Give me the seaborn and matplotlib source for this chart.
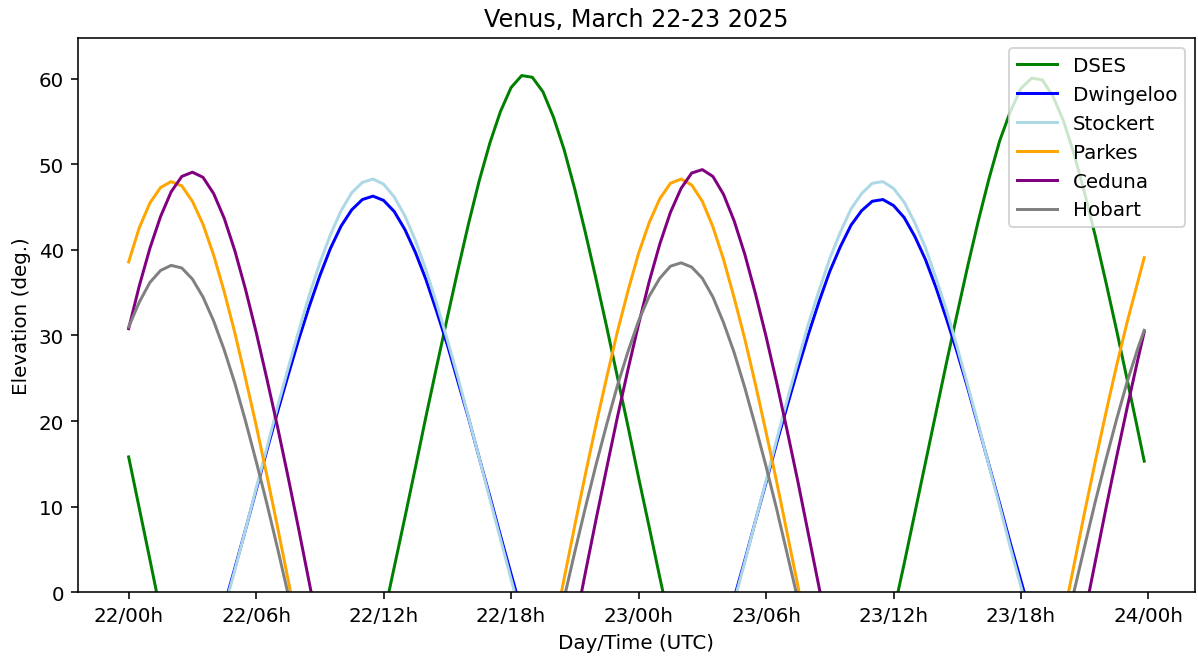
import numpy as np
import pandas as pd
import matplotlib
matplotlib.use("Agg")
import matplotlib.pyplot as plt
import matplotlib.dates as mdates
import seaborn as sns

# time axis: hours after 2025-03-22 00:00 UTC (half-hour samples)
hours = list(np.arange(0, 48, 0.5)) + [47.8]

stations = ["DSES", "Dwingeloo", "Stockert", "Parkes", "Ceduna", "Hobart"]
colors = ["green", "blue", "lightblue", "orange", "purple", "grey"]

DSES = [
    15.8, 9.8, 3.8, -2.3, -8.3, -13.5, -18.5, -23.5, -28.0, -32.0,
    -35.5, -38.5, -41.0, -42.2, -42.6, -41.6, -39.9, -36.9, -33.3, -29.0,
    -24.3, -19.3, -14.1, -8.5, -2.9, 2.9, 8.7, 14.6, 20.6, 26.4,
    32.1, 37.7, 43.1, 48.1, 52.5, 56.2, 59.0, 60.4, 60.2, 58.5,
    55.5, 51.7, 47.1, 42.0, 36.6, 31.0, 25.2, 19.4, 13.4, 7.6,
    1.7, -4.0, -9.7, -15.1, -20.3, -25.2, -29.8, -33.8, -37.3, -40.0,
    -42.0, -42.9, -43.0, -41.8, -39.7, -36.6, -33.0, -28.7, -24.0, -19.0,
    -13.7, -8.1, -2.4, 3.3, 9.2, 15.1, 21.0, 26.9, 32.6, 38.2,
    43.5, 48.4, 52.8, 56.2, 58.9, 60.1, 59.9, 58.0, 55.1, 51.2,
    46.6, 41.6, 36.2, 30.6, 24.8, 18.9, 15.3]

Dwingeloo = [
    -27.7, -26.6, -25.1, -22.9, -20.3, -17.1, -13.6, -9.9, -5.9, -1.6,
    2.8, 7.3, 11.9, 16.5, 21.0, 25.3, 29.5, 33.4, 37.0, 40.2,
    42.8, 44.7, 45.9, 46.3, 45.8, 44.5, 42.4, 39.7, 36.5, 32.8,
    28.9, 24.6, 20.3, 15.7, 11.2, 6.6, 2.1, -2.3, -6.5, -10.5,
    -14.2, -17.6, -20.8, -23.3, -25.5, -27.0, -28.0, -28.4, -27.6, -26.4,
    -24.7, -22.4, -19.7, -16.4, -12.9, -9.1, -5.0, -0.7, 3.7, 8.3,
    12.8, 17.4, 21.8, 26.1, 30.2, 34.0, 37.5, 40.4, 42.9, 44.6,
    45.7, 45.9, 45.2, 43.8, 41.6, 38.9, 35.6, 31.9, 28.0, 23.8,
    19.3, 14.8, 10.3, 5.7, 1.3, -3.1, -7.3, -11.2, -14.9, -18.2,
    -21.3, -23.7, -25.7, -27.1, -28.0, -28.3, -28.4]

Stockert = [
    -29.8, -29.0, -27.0, -24.5, -21.7, -18.3, -14.7, -10.8, -6.5, -2.0,
    2.6, 7.3, 12.1, 16.8, 21.6, 26.1, 30.5, 34.7, 38.5, 41.8,
    44.6, 46.7, 47.9, 48.3, 47.7, 46.2, 44.0, 41.1, 37.6, 33.7,
    29.5, 25.1, 20.4, 15.7, 10.9, 6.2, 1.5, -3.1, -7.6, -11.8,
    -15.6, -19.2, -22.5, -25.2, -27.4, -28.8, -29.9, -30.4, -29.6, -28.4,
    -26.6, -24.0, -21.0, -17.6, -13.9, -9.9, -5.6, -1.1, 3.5, 8.3,
    13.0, 17.8, 22.5, 27.0, 31.4, 35.3, 39.0, 42.1, 44.8, 46.6,
    47.8, 48.0, 47.2, 45.6, 43.2, 40.3, 36.7, 32.9, 28.6, 24.1,
    19.5, 14.7, 10.0, 5.2, 0.6, -4.0, -8.4, -12.6, -16.4, -19.9,
    -23.1, -25.6, -27.8, -29.2, -30.1, -30.4, -30.5]

Parkes = [
    38.6, 42.6, 45.5, 47.3, 48.0, 47.5, 45.7, 43.0, 39.4, 35.1,
    30.3, 25.0, 19.5, 13.7, 7.7, 1.5, -4.7, -10.9, -17.2, -23.5,
    -29.7, -36.0, -42.0, -48.0, -53.3, -58.0, -62.2, -64.5, -66.0, -65.0,
    -62.1, -58.0, -53.2, -47.8, -41.9, -35.8, -29.6, -23.3, -17.1, -10.8,
    -4.6, 1.6, 7.8, 13.8, 19.6, 25.1, 30.4, 35.2, 39.6, 43.2,
    46.0, 47.8, 48.3, 47.6, 45.7, 42.7, 38.9, 34.4, 29.6, 24.3,
    18.7, 12.9, 6.8, 0.7, -5.6, -12.0, -18.6, -24.6, -30.6, -36.8,
    -42.9, -48.6, -54.0, -58.6, -62.6, -65.0, -66.0, -65.2, -61.6, -57.2,
    -52.2, -46.6, -40.8, -34.7, -28.0, -21.8, -15.5, -9.2, -2.9, 3.2,
    9.4, 15.3, 21.0, 26.5, 31.6, 36.3, 39.1]

Ceduna = [
    30.8, 35.8, 40.2, 43.9, 46.8, 48.6, 49.1, 48.5, 46.6, 43.7,
    39.9, 35.4, 30.4, 25.0, 19.4, 13.5, 7.4, 1.1, -5.2, -11.5,
    -17.9, -24.2, -30.5, -36.8, -43.0, -48.8, -54.4, -59.2, -63.5, -65.8,
    -67.1, -65.8, -62.8, -58.5, -53.4, -47.8, -41.9, -35.7, -29.4, -23.1,
    -16.7, -10.4, -4.0, 2.3, 8.5, 14.5, 20.4, 26.0, 31.3, 36.3,
    40.7, 44.4, 47.2, 49.0, 49.4, 48.6, 46.5, 43.4, 39.5, 34.9,
    29.9, 24.5, 18.8, 12.9, 6.7, 0.5, -5.8, -12.1, -18.5, -24.9,
    -31.2, -37.4, -43.6, -49.5, -55.0, -59.6, -63.7, -66.0, -67.0, -65.5,
    -62.0, -57.6, -52.7, -47.0, -41.0, -34.5, -28.0, -21.7, -15.3, -9.0,
    -2.6, 3.6, 9.8, 15.8, 21.6, 27.2, 30.4]

Hobart = [
    31.0, 33.9, 36.2, 37.6, 38.2, 37.9, 36.6, 34.5, 31.7, 28.3,
    24.4, 20.0, 15.3, 10.4, 5.2, -0.2, -5.6, -11.1, -16.6, -22.0,
    -27.4, -32.6, -37.8, -42.5, -46.9, -50.5, -53.4, -55.2, -56.1, -55.5,
    -53.7, -50.8, -47.3, -43.0, -38.3, -33.3, -28.0, -22.6, -17.1, -11.6,
    -6.1, -0.7, 4.7, 9.9, 14.9, 19.6, 24.1, 28.1, 31.7, 34.6,
    36.7, 38.1, 38.5, 38.0, 36.7, 34.5, 31.5, 28.0, 23.9, 19.4,
    14.7, 9.7, 4.4, -0.9, -6.4, -11.9, -17.4, -22.8, -28.2, -33.4,
    -38.5, -43.2, -47.5, -51.0, -53.8, -55.4, -56.2, -55.6, -53.3, -50.3,
    -46.7, -42.3, -37.6, -32.5, -27.2, -21.9, -16.5, -10.9, -5.4, 0.1,
    5.4, 10.6, 15.5, 20.2, 24.6, 28.5, 30.6]

series = [DSES, Dwingeloo, Stockert, Parkes, Ceduna, Hobart]

times = pd.Timestamp("2025-03-22 00:00") + pd.to_timedelta(hours, unit="h")

DPI = 143
fig, ax = plt.subplots(figsize=(1198 / DPI, 660 / DPI), dpi=DPI)
fig.subplots_adjust(left=0.065, right=0.9975, top=0.941, bottom=0.1015)

for name, col, vals in zip(stations, colors, series):
    df = pd.DataFrame({"time": times, "elev": vals})
    sns.lineplot(data=df, x="time", y="elev", color=col, label=name,
                 linewidth=1.5, ax=ax, sort=False)

ax.set_ylim(0, 64.8)
ax.xaxis.set_major_locator(mdates.HourLocator(byhour=[0, 6, 12, 18]))
ax.xaxis.set_major_formatter(mdates.DateFormatter("%d/%Hh"))
ax.set_title("Venus, March 22-23 2025")
ax.set_xlabel("Day/Time (UTC)")
ax.set_ylabel("Elevation (deg.)")
ax.legend(loc="upper right")

fig.savefig("out.png", dpi=DPI)
